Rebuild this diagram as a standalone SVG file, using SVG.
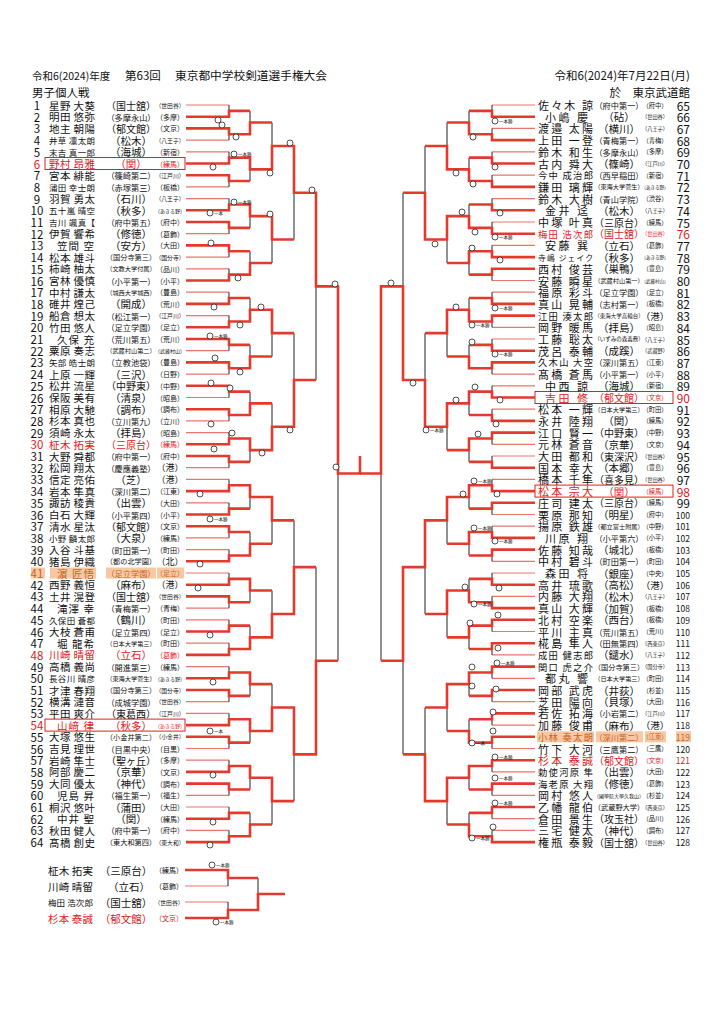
<svg xmlns="http://www.w3.org/2000/svg" width="724" height="1023" viewBox="0 0 724 1023">
<style>
text{font-family:"Noto Sans CJK JP","Noto Sans CJK SC",sans-serif;fill:#111;dominant-baseline:central}
.hd{dominant-baseline:alphabetic}
.no{font-size:11.5px;text-anchor:middle}
.nr{font-size:12px;text-anchor:end}
.ns{font-size:8.5px;text-anchor:end}
.a4,.a3{font-size:10.5px}.a5{font-size:8.5px}
.b4,.b3{font-size:11px}.b5{font-size:9.3px}.b6{font-size:7.8px}
.s3,.s4,.s5,.s6,.s7,.s8,.s9,.s10,.g3,.g4,.g5,.g6,.h3,.h4,.h5,.h6{text-anchor:middle}
.s3,.s4{font-size:10.5px}.s5{font-size:10px}.s6{font-size:8.2px}.s7{font-size:7.2px}.s8{font-size:6.2px}.s9{font-size:5.5px}.s10{font-size:5px}
.g3{font-size:9px}.g4{font-size:7px}.g5{font-size:5.8px}.g6{font-size:5px}
.h3{font-size:9.5px}.h4{font-size:6.3px}.h5{font-size:5.2px}.h6{font-size:4.5px}
.mk{font-size:4.5px}
.rd text{fill:#e0201c}
.og text{fill:#c8641e}
.hl{fill:#f8c7a4}
.bx{fill:none;stroke:#e0201c;stroke-width:1}
.w{fill:none;stroke:#e33a2e;stroke-width:2.6;vector-effect:non-scaling-stroke}
.l{fill:none;stroke:#e8766e;stroke-width:1.2;vector-effect:non-scaling-stroke}
.k{fill:none;stroke:#222;stroke-width:1;vector-effect:non-scaling-stroke}
</style>
<defs><circle id="c" r="3" fill="#fff" stroke="#222" stroke-width="0.8"/></defs>
<rect width="724" height="1023" fill="#fff"/>
<g id="header">
<text class="hd" x="32" y="80" font-size="10.5">令和6(2024)年度</text>
<text class="hd" x="125" y="80" font-size="11.5">第63回</text>
<text class="hd" x="175" y="80" font-size="11.7">東京都中学校剣道選手権大会</text>
<text class="hd" x="32" y="97" font-size="11.5">男子個人戦</text>
<text class="hd" x="690" y="80" font-size="11.5" text-anchor="end">令和6(2024)年7月22日(月)</text>
<text class="hd" x="690" y="97" font-size="11.5" text-anchor="end">於　東京武道館</text>
</g>
<g id="highlights">
<rect class="hl" x="31" y="567.5" width="14" height="11"/><rect class="hl" x="50" y="567.5" width="46" height="11"/><rect class="hl" x="106" y="567.5" width="50" height="11"/><rect class="hl" x="157" y="567.5" width="27" height="11"/>
<rect class="hl" x="537" y="731.3" width="57" height="11"/><rect class="hl" x="596" y="731.3" width="47" height="11"/><rect class="hl" x="645" y="731.3" width="21" height="11"/><rect class="hl" x="676" y="731.3" width="15" height="11"/>
<rect class="bx" x="45" y="157.5" width="140" height="12"/>
<rect class="bx" x="45" y="719.1" width="140" height="12"/>
<rect class="bx" x="535" y="391.5" width="138" height="12"/>
<rect class="bx" x="535" y="485.1" width="138" height="12"/>
</g>
<g id="left">
<g id="e1" transform="translate(0,105)"><text class="no" x="37">1</text><text class="a4" x="49" textLength="46">星野 大葵</text><text class="s5" x="131">（国士舘）</text><text class="g5" x="170">（世田谷）</text></g>
<g id="e2" transform="translate(0,116.7)"><text class="no" x="37">2</text><text class="a4" x="49" textLength="46">明田 悠弥</text><text class="s6" x="131">（多摩永山）</text><text class="g4" x="170">（多摩）</text></g>
<g id="e3" transform="translate(0,128.4)"><text class="no" x="37">3</text><text class="a4" x="49" textLength="46">地主 朝陽</text><text class="s5" x="131">（郁文館）</text><text class="g4" x="170">（文京）</text></g>
<g id="e4" transform="translate(0,140.1)"><text class="no" x="37">4</text><text class="a5" x="49" textLength="46">井草 凛太朗</text><text class="s4" x="131">（松木）</text><text class="g5" x="170">（八王子）</text></g>
<g id="e5" transform="translate(0,151.8)"><text class="no" x="37">5</text><text class="a5" x="49" textLength="46">末吉 真一郎</text><text class="s4" x="131">（海城）</text><text class="g4" x="170">（新宿）</text></g>
<g id="e6" class="rd" transform="translate(0,163.5)"><text class="no" x="37">6</text><text class="a4" x="49" textLength="46">野村 昂雅</text><text class="s3" x="131">（関）</text><text class="g4" x="170">（練馬）</text></g>
<g id="e7" transform="translate(0,175.2)"><text class="no" x="37">7</text><text class="a4" x="49" textLength="46">宮本 緋能</text><text class="s6" x="131">（篠崎第二）</text><text class="g5" x="170">（江戸川）</text></g>
<g id="e8" transform="translate(0,186.9)"><text class="no" x="37">8</text><text class="a5" x="49" textLength="46">蒲田 幸士朗</text><text class="s6" x="131">（赤塚第三）</text><text class="g4" x="170">（板橋）</text></g>
<g id="e9" transform="translate(0,198.6)"><text class="no" x="37">9</text><text class="a4" x="49" textLength="46">羽賀 勇太</text><text class="s4" x="131">（石川）</text><text class="g5" x="170">（八王子）</text></g>
<g id="e10" transform="translate(0,210.3)"><text class="no" x="37">10</text><text class="a5" x="49" textLength="46">五十嵐 晴空</text><text class="s4" x="131">（秋多）</text><text class="g6" x="170">（あきる野）</text></g>
<g id="e11" transform="translate(0,222)"><text class="no" x="37">11</text><text class="a5" x="49" textLength="46">吉川 颯真【</text><text class="s6" x="131">（府中第五）</text><text class="g4" x="170">（府中）</text></g>
<g id="e12" transform="translate(0,233.7)"><text class="no" x="37">12</text><text class="a4" x="49" textLength="46">伊賀 響希</text><text class="s4" x="131">（修徳）</text><text class="g4" x="170">（葛飾）</text></g>
<g id="e13" transform="translate(0,245.4)"><text class="no" x="37">13</text><text class="a3" x="57" textLength="37">笠間 空</text><text class="s4" x="131">（安方）</text><text class="g4" x="170">（大田）</text></g>
<g id="e14" transform="translate(0,257.1)"><text class="no" x="37">14</text><text class="a4" x="49" textLength="46">松本 雄斗</text><text class="s7" x="131">（国分寺第三）</text><text class="g5" x="170">（国分寺）</text></g>
<g id="e15" transform="translate(0,268.8)"><text class="no" x="37">15</text><text class="a4" x="49" textLength="46">柿崎 柚太</text><text class="s8" x="131">（文教大学付属）</text><text class="g4" x="170">（品川）</text></g>
<g id="e16" transform="translate(0,280.5)"><text class="no" x="37">16</text><text class="a4" x="49" textLength="46">宮林 優慎</text><text class="s6" x="131">（小平第一）</text><text class="g4" x="170">（小平）</text></g>
<g id="e17" transform="translate(0,292.2)"><text class="no" x="37">17</text><text class="a4" x="49" textLength="46">中村 謙太</text><text class="s8" x="131">（城西大学城西）</text><text class="g4" x="170">（豊島）</text></g>
<g id="e18" transform="translate(0,303.9)"><text class="no" x="37">18</text><text class="a4" x="49" textLength="46">碓井 煌己</text><text class="s4" x="131">（開成）</text><text class="g4" x="170">（荒川）</text></g>
<g id="e19" transform="translate(0,315.6)"><text class="no" x="37">19</text><text class="a4" x="49" textLength="46">船倉 想太</text><text class="s6" x="131">（松江第一）</text><text class="g5" x="170">（江戸川）</text></g>
<g id="e20" transform="translate(0,327.3)"><text class="no" x="37">20</text><text class="a4" x="49" textLength="46">竹田 悠人</text><text class="s6" x="131">（足立学園）</text><text class="g4" x="170">（足立）</text></g>
<g id="e21" transform="translate(0,339)"><text class="no" x="37">21</text><text class="a3" x="57" textLength="37">久保 充</text><text class="s6" x="131">（荒川第五）</text><text class="g4" x="170">（荒川）</text></g>
<g id="e22" transform="translate(0,350.7)"><text class="no" x="37">22</text><text class="a4" x="49" textLength="46">粟原 奏志</text><text class="s8" x="131">（武蔵村山第二）</text><text class="g6" x="170">（武蔵村山）</text></g>
<g id="e23" transform="translate(0,362.4)"><text class="no" x="37">23</text><text class="a5" x="49" textLength="46">矢部 皓士朗</text><text class="s6" x="131">（立教池袋）</text><text class="g4" x="170">（豊島）</text></g>
<g id="e24" transform="translate(0,374.1)"><text class="no" x="37">24</text><text class="a4" x="49" textLength="46">上原 一輝</text><text class="s4" x="131">（三沢）</text><text class="g4" x="170">（日野）</text></g>
<g id="e25" transform="translate(0,385.8)"><text class="no" x="37">25</text><text class="a4" x="49" textLength="46">松井 流星</text><text class="s5" x="131">（中野東）</text><text class="g4" x="170">（中野）</text></g>
<g id="e26" transform="translate(0,397.5)"><text class="no" x="37">26</text><text class="a4" x="49" textLength="46">保阪 美有</text><text class="s4" x="131">（清泉）</text><text class="g4" x="170">（昭島）</text></g>
<g id="e27" transform="translate(0,409.2)"><text class="no" x="37">27</text><text class="a4" x="49" textLength="46">相原 大馳</text><text class="s4" x="131">（調布）</text><text class="g4" x="170">（調布）</text></g>
<g id="e28" transform="translate(0,420.9)"><text class="no" x="37">28</text><text class="a4" x="49" textLength="46">杉本 真也</text><text class="s6" x="131">（立川第九）</text><text class="g4" x="170">（立川）</text></g>
<g id="e29" transform="translate(0,432.6)"><text class="no" x="37">29</text><text class="a4" x="49" textLength="46">須崎 永太</text><text class="s4" x="131">（拝島）</text><text class="g4" x="170">（昭島）</text></g>
<g id="e30" class="rd" transform="translate(0,444.3)"><text class="no" x="37">30</text><text class="a4" x="49" textLength="46">柾木 拓実</text><text class="s5" x="131">（三原台）</text><text class="g4" x="170">（練馬）</text></g>
<g id="e31" transform="translate(0,456)"><text class="no" x="37">31</text><text class="a4" x="49" textLength="46">大野 舜都</text><text class="s6" x="131">（府中第一）</text><text class="g4" x="170">（府中）</text></g>
<g id="e32" transform="translate(0,467.7)"><text class="no" x="37">32</text><text class="a4" x="49" textLength="46">松岡 翔太</text><text class="s6" x="131">（慶應義塾）</text><text class="g3" x="170">（港）</text></g>
<g id="e33" transform="translate(0,479.4)"><text class="no" x="37">33</text><text class="a4" x="49" textLength="46">信定 亮佑</text><text class="s3" x="131">（芝）</text><text class="g3" x="170">（港）</text></g>
<g id="e34" transform="translate(0,491.1)"><text class="no" x="37">34</text><text class="a4" x="49" textLength="46">岩本 隼真</text><text class="s6" x="131">（深川第二）</text><text class="g4" x="170">（江東）</text></g>
<g id="e35" transform="translate(0,502.8)"><text class="no" x="37">35</text><text class="a4" x="49" textLength="46">諏訪 稜貴</text><text class="s4" x="131">（出雲）</text><text class="g4" x="170">（大田）</text></g>
<g id="e36" transform="translate(0,514.5)"><text class="no" x="37">36</text><text class="a4" x="49" textLength="46">白石 大輝</text><text class="s6" x="131">（小平第四）</text><text class="g4" x="170">（小平）</text></g>
<g id="e37" transform="translate(0,526.2)"><text class="no" x="37">37</text><text class="a4" x="49" textLength="46">清水 星汰</text><text class="s5" x="131">（郁文館）</text><text class="g4" x="170">（文京）</text></g>
<g id="e38" transform="translate(0,537.9)"><text class="no" x="37">38</text><text class="a5" x="49" textLength="46">小野 麟太郎</text><text class="s4" x="131">（大泉）</text><text class="g4" x="170">（練馬）</text></g>
<g id="e39" transform="translate(0,549.6)"><text class="no" x="37">39</text><text class="a4" x="49" textLength="46">入谷 斗基</text><text class="s6" x="131">（町田第一）</text><text class="g4" x="170">（町田）</text></g>
<g id="e40" transform="translate(0,561.3)"><text class="no" x="37">40</text><text class="a4" x="49" textLength="46">猪島 伊織</text><text class="s7" x="131">（都の北学園）</text><text class="g3" x="170">（北）</text></g>
<g id="e41" class="og" transform="translate(0,573)"><text class="no" x="37">41</text><text class="a3" x="57" textLength="37">濵 匠悟</text><text class="s6" x="131">（足立学園）</text><text class="g4" x="170">（足立）</text></g>
<g id="e42" transform="translate(0,584.7)"><text class="no" x="37">42</text><text class="a4" x="49" textLength="46">西野 義恒</text><text class="s4" x="131">（麻布）</text><text class="g3" x="170">（港）</text></g>
<g id="e43" transform="translate(0,596.4)"><text class="no" x="37">43</text><text class="a4" x="49" textLength="46">土井 滉登</text><text class="s5" x="131">（国士舘）</text><text class="g5" x="170">（世田谷）</text></g>
<g id="e44" transform="translate(0,608.1)"><text class="no" x="37">44</text><text class="a3" x="57" textLength="37">滝澤 幸</text><text class="s6" x="131">（青梅第一）</text><text class="g4" x="170">（青梅）</text></g>
<g id="e45" transform="translate(0,619.8)"><text class="no" x="37">45</text><text class="a5" x="49" textLength="46">久保田 蒼都</text><text class="s4" x="131">（鶴川）</text><text class="g4" x="170">（町田）</text></g>
<g id="e46" transform="translate(0,631.5)"><text class="no" x="37">46</text><text class="a4" x="49" textLength="46">大枝 蒼甫</text><text class="s6" x="131">（足立第四）</text><text class="g4" x="170">（足立）</text></g>
<g id="e47" transform="translate(0,643.2)"><text class="no" x="37">47</text><text class="a3" x="57" textLength="37">堀 龍希</text><text class="s8" x="131">（日本大学第三）</text><text class="g4" x="170">（町田）</text></g>
<g id="e48" class="rd" transform="translate(0,654.9)"><text class="no" x="37">48</text><text class="a4" x="49" textLength="46">川崎 晴留</text><text class="s4" x="131">（立石）</text><text class="g4" x="170">（葛飾）</text></g>
<g id="e49" transform="translate(0,666.6)"><text class="no" x="37">49</text><text class="a4" x="49" textLength="46">高橋 義尚</text><text class="s6" x="131">（開進第三）</text><text class="g4" x="170">（練馬）</text></g>
<g id="e50" transform="translate(0,678.3)"><text class="no" x="37">50</text><text class="a5" x="49" textLength="46">長谷川 晴彦</text><text class="s8" x="131">（東海大学菅生）</text><text class="g6" x="170">（あきる野）</text></g>
<g id="e51" transform="translate(0,690)"><text class="no" x="37">51</text><text class="a4" x="49" textLength="46">才津 春翔</text><text class="s7" x="131">（国分寺第三）</text><text class="g5" x="170">（国分寺）</text></g>
<g id="e52" transform="translate(0,701.7)"><text class="no" x="37">52</text><text class="a4" x="49" textLength="46">横溝 漣音</text><text class="s6" x="131">（成城学園）</text><text class="g5" x="170">（世田谷）</text></g>
<g id="e53" transform="translate(0,713.4)"><text class="no" x="37">53</text><text class="a4" x="49" textLength="46">平田 爽介</text><text class="s5" x="131">（東葛西）</text><text class="g5" x="170">（江戸川）</text></g>
<g id="e54" class="rd" transform="translate(0,725.1)"><text class="no" x="37">54</text><text class="a3" x="57" textLength="37">山﨑 律</text><text class="s4" x="131">（秋多）</text><text class="g6" x="170">（あきる野）</text></g>
<g id="e55" transform="translate(0,736.8)"><text class="no" x="37">55</text><text class="a4" x="49" textLength="46">大塚 悠生</text><text class="s7" x="131">（小金井第二）</text><text class="g5" x="170">（小金井）</text></g>
<g id="e56" transform="translate(0,748.5)"><text class="no" x="37">56</text><text class="a4" x="49" textLength="46">吉見 理世</text><text class="s6" x="131">（目黒中央）</text><text class="g4" x="170">（目黒）</text></g>
<g id="e57" transform="translate(0,760.2)"><text class="no" x="37">57</text><text class="a4" x="49" textLength="46">岩崎 隼士</text><text class="s5" x="131">（聖ヶ丘）</text><text class="g4" x="170">（多摩）</text></g>
<g id="e58" transform="translate(0,771.9)"><text class="no" x="37">58</text><text class="a4" x="49" textLength="46">阿部 慶二</text><text class="s4" x="131">（京華）</text><text class="g4" x="170">（文京）</text></g>
<g id="e59" transform="translate(0,783.6)"><text class="no" x="37">59</text><text class="a4" x="49" textLength="46">大同 優太</text><text class="s4" x="131">（神代）</text><text class="g4" x="170">（調布）</text></g>
<g id="e60" transform="translate(0,795.3)"><text class="no" x="37">60</text><text class="a3" x="57" textLength="37">児島 昇</text><text class="s6" x="131">（福生第一）</text><text class="g4" x="170">（福生）</text></g>
<g id="e61" transform="translate(0,807)"><text class="no" x="37">61</text><text class="a4" x="49" textLength="46">桐沢 悠叶</text><text class="s4" x="131">（蒲田）</text><text class="g4" x="170">（大田）</text></g>
<g id="e62" transform="translate(0,818.7)"><text class="no" x="37">62</text><text class="a3" x="57" textLength="37">中井 聖</text><text class="s3" x="131">（関）</text><text class="g4" x="170">（練馬）</text></g>
<g id="e63" transform="translate(0,830.4)"><text class="no" x="37">63</text><text class="a4" x="49" textLength="46">秋田 健人</text><text class="s6" x="131">（府中第一）</text><text class="g4" x="170">（府中）</text></g>
<g id="e64" transform="translate(0,842.1)"><text class="no" x="37">64</text><text class="a4" x="49" textLength="46">髙橋 創史</text><text class="s7" x="131">（東大和第四）</text><text class="g5" x="170">（東大和）</text></g>
</g>
<g id="right">
<g id="e65" transform="translate(0,105)"><text class="b4" x="538" textLength="55">佐々木 諒</text><text class="s6" x="619">（府中第一）</text><text class="h4" x="655">（府中）</text><text class="nr" x="690">65</text></g>
<g id="e66" transform="translate(0,116.7)"><text class="b3" x="545" textLength="43">小嶋 慶</text><text class="s3" x="619">（砧）</text><text class="h5" x="655">（世田谷）</text><text class="nr" x="690">66</text></g>
<g id="e67" transform="translate(0,128.4)"><text class="b4" x="538" textLength="55">渡邉 太陽</text><text class="s4" x="619">（横川）</text><text class="h5" x="655">（八王子）</text><text class="nr" x="690">67</text></g>
<g id="e68" transform="translate(0,140.1)"><text class="b4" x="538" textLength="55">上田 一登</text><text class="s6" x="619">（青梅第一）</text><text class="h4" x="655">（青梅）</text><text class="nr" x="690">68</text></g>
<g id="e69" transform="translate(0,151.8)"><text class="b4" x="538" textLength="55">鈴木 和生</text><text class="s6" x="619">（多摩永山）</text><text class="h4" x="655">（多摩）</text><text class="nr" x="690">69</text></g>
<g id="e70" transform="translate(0,163.5)"><text class="b4" x="538" textLength="55">古内 舜大</text><text class="s4" x="619">（篠崎）</text><text class="h5" x="655">（江戸川）</text><text class="nr" x="690">70</text></g>
<g id="e71" transform="translate(0,175.2)"><text class="b5" x="538" textLength="55">今中 成治郎</text><text class="s6" x="619">（西早稲田）</text><text class="h4" x="655">（新宿）</text><text class="nr" x="690">71</text></g>
<g id="e72" transform="translate(0,186.9)"><text class="b4" x="538" textLength="55">鎌田 璃輝</text><text class="s8" x="619">（東海大学菅生）</text><text class="h6" x="655">（あきる野）</text><text class="nr" x="690">72</text></g>
<g id="e73" transform="translate(0,198.6)"><text class="b4" x="538" textLength="55">鈴木 大樹</text><text class="s6" x="619">（青山学院）</text><text class="h4" x="655">（渋谷）</text><text class="nr" x="690">73</text></g>
<g id="e74" transform="translate(0,210.3)"><text class="b3" x="545" textLength="43">金井 迳</text><text class="s4" x="619">（松木）</text><text class="h5" x="655">（八王子）</text><text class="nr" x="690">74</text></g>
<g id="e75" transform="translate(0,222)"><text class="b4" x="538" textLength="55">中塚 叶真</text><text class="s5" x="619">（三原台）</text><text class="h4" x="655">（練馬）</text><text class="nr" x="690">75</text></g>
<g id="e76" class="rd" transform="translate(0,233.7)"><text class="b5" x="538" textLength="55">梅田 浩次郎</text><text class="s5" x="619">（国士舘）</text><text class="h5" x="655">（世田谷）</text><text class="nr" x="690">76</text></g>
<g id="e77" transform="translate(0,245.4)"><text class="b3" x="545" textLength="43">安藤 巽</text><text class="s4" x="619">（立石）</text><text class="h4" x="655">（葛飾）</text><text class="nr" x="690">77</text></g>
<g id="e78" transform="translate(0,257.1)"><text class="b6" x="538" textLength="55">寺嶋 ジェイク</text><text class="s4" x="619">（秋多）</text><text class="h6" x="655">（あきる野）</text><text class="nr" x="690">78</text></g>
<g id="e79" transform="translate(0,268.8)"><text class="b4" x="538" textLength="55">西村 俊芸</text><text class="s4" x="619">（巣鴨）</text><text class="h4" x="655">（豊島）</text><text class="nr" x="690">79</text></g>
<g id="e80" transform="translate(0,280.5)"><text class="b4" x="538" textLength="55">安藤 瞬星</text><text class="s8" x="619">（武蔵村山第一）</text><text class="h6" x="655">（武蔵村山）</text><text class="nr" x="690">80</text></g>
<g id="e81" transform="translate(0,292.2)"><text class="b4" x="538" textLength="55">福原 彩斗</text><text class="s6" x="619">（足立学園）</text><text class="h4" x="655">（足立）</text><text class="nr" x="690">81</text></g>
<g id="e82" transform="translate(0,303.9)"><text class="b4" x="538" textLength="55">真山 晃輔</text><text class="s6" x="619">（志村第一）</text><text class="h4" x="655">（板橋）</text><text class="nr" x="690">82</text></g>
<g id="e83" transform="translate(0,315.6)"><text class="b5" x="538" textLength="55">江田 湊太郎</text><text class="s9" x="619">（東海大学高輪台）</text><text class="h3" x="655">（港）</text><text class="nr" x="690">83</text></g>
<g id="e84" transform="translate(0,327.3)"><text class="b4" x="538" textLength="55">岡野 暖馬</text><text class="s4" x="619">（拝島）</text><text class="h4" x="655">（昭島）</text><text class="nr" x="690">84</text></g>
<g id="e85" transform="translate(0,339)"><text class="b4" x="538" textLength="55">工藤 聡太</text><text class="s9" x="619">（いずみの森義務）</text><text class="h5" x="655">（八王子）</text><text class="nr" x="690">85</text></g>
<g id="e86" transform="translate(0,350.7)"><text class="b4" x="538" textLength="55">茂呂 泰輔</text><text class="s4" x="619">（成蹊）</text><text class="h5" x="655">（武蔵野）</text><text class="nr" x="690">86</text></g>
<g id="e87" transform="translate(0,362.4)"><text class="b5" x="538" textLength="55">久木山 大空</text><text class="s6" x="619">（深川第五）</text><text class="h4" x="655">（江東）</text><text class="nr" x="690">87</text></g>
<g id="e88" transform="translate(0,374.1)"><text class="b4" x="538" textLength="55">髙橋 蒼馬</text><text class="s6" x="619">（小平第一）</text><text class="h4" x="655">（小平）</text><text class="nr" x="690">88</text></g>
<g id="e89" transform="translate(0,385.8)"><text class="b3" x="545" textLength="43">中西 諒</text><text class="s4" x="619">（海城）</text><text class="h4" x="655">（新宿）</text><text class="nr" x="690">89</text></g>
<g id="e90" class="rd" transform="translate(0,397.5)"><text class="b3" x="545" textLength="43">吉田 修</text><text class="s5" x="619">（郁文館）</text><text class="h4" x="655">（文京）</text><text class="nr" x="690">90</text></g>
<g id="e91" transform="translate(0,409.2)"><text class="b4" x="538" textLength="55">松本 一輝</text><text class="s8" x="619">（日本大学第三）</text><text class="h4" x="655">（町田）</text><text class="nr" x="690">91</text></g>
<g id="e92" transform="translate(0,420.9)"><text class="b4" x="538" textLength="55">永井 陸翔</text><text class="s3" x="619">（関）</text><text class="h4" x="655">（練馬）</text><text class="nr" x="690">92</text></g>
<g id="e93" transform="translate(0,432.6)"><text class="b4" x="538" textLength="55">江口 賢一</text><text class="s5" x="619">（中野東）</text><text class="h4" x="655">（中野）</text><text class="nr" x="690">93</text></g>
<g id="e94" transform="translate(0,444.3)"><text class="b4" x="538" textLength="55">元林 蒼音</text><text class="s4" x="619">（京華）</text><text class="h4" x="655">（文京）</text><text class="nr" x="690">94</text></g>
<g id="e95" transform="translate(0,456)"><text class="b4" x="538" textLength="55">大田 都和</text><text class="s5" x="619">（東深沢）</text><text class="h5" x="655">（世田谷）</text><text class="nr" x="690">95</text></g>
<g id="e96" transform="translate(0,467.7)"><text class="b4" x="538" textLength="55">国本 幸大</text><text class="s4" x="619">（本郷）</text><text class="h4" x="655">（豊島）</text><text class="nr" x="690">96</text></g>
<g id="e97" transform="translate(0,479.4)"><text class="b4" x="538" textLength="55">橋本 千隼</text><text class="s5" x="619">（喜多見）</text><text class="h5" x="655">（世田谷）</text><text class="nr" x="690">97</text></g>
<g id="e98" class="rd" transform="translate(0,491.1)"><text class="b4" x="538" textLength="55">松本 宗大</text><text class="s3" x="619">（関）</text><text class="h4" x="655">（練馬）</text><text class="nr" x="690">98</text></g>
<g id="e99" transform="translate(0,502.8)"><text class="b4" x="538" textLength="55">庄司 建太</text><text class="s5" x="619">（三原台）</text><text class="h4" x="655">（練馬）</text><text class="nr" x="690">99</text></g>
<g id="e100" transform="translate(0,514.5)"><text class="b4" x="538" textLength="55">栗原 那知</text><text class="s4" x="619">（明星）</text><text class="h4" x="655">（府中）</text><text class="ns" x="690">100</text></g>
<g id="e101" transform="translate(0,526.2)"><text class="b4" x="538" textLength="55">揚原 鉄雄</text><text class="s8" x="619">（都立富士附属）</text><text class="h4" x="655">（中野）</text><text class="ns" x="690">101</text></g>
<g id="e102" transform="translate(0,537.9)"><text class="b3" x="545" textLength="43">川原 翔</text><text class="s6" x="619">（小平第六）</text><text class="h4" x="655">（小平）</text><text class="ns" x="690">102</text></g>
<g id="e103" transform="translate(0,549.6)"><text class="b4" x="538" textLength="55">佐藤 知哉</text><text class="s4" x="619">（城北）</text><text class="h4" x="655">（板橋）</text><text class="ns" x="690">103</text></g>
<g id="e104" transform="translate(0,561.3)"><text class="b4" x="538" textLength="55">中村 碧斗</text><text class="s6" x="619">（町田第一）</text><text class="h4" x="655">（町田）</text><text class="ns" x="690">104</text></g>
<g id="e105" transform="translate(0,573)"><text class="b3" x="545" textLength="43">森田 将</text><text class="s4" x="619">（銀座）</text><text class="h4" x="655">（中央）</text><text class="ns" x="690">105</text></g>
<g id="e106" transform="translate(0,584.7)"><text class="b4" x="538" textLength="55">高井 琉歌</text><text class="s4" x="619">（高松）</text><text class="h3" x="655">（港）</text><text class="ns" x="690">106</text></g>
<g id="e107" transform="translate(0,596.4)"><text class="b4" x="538" textLength="55">内藤 大翔</text><text class="s4" x="619">（松木）</text><text class="h5" x="655">（八王子）</text><text class="ns" x="690">107</text></g>
<g id="e108" transform="translate(0,608.1)"><text class="b4" x="538" textLength="55">真山 大輝</text><text class="s4" x="619">（加賀）</text><text class="h4" x="655">（板橋）</text><text class="ns" x="690">108</text></g>
<g id="e109" transform="translate(0,619.8)"><text class="b4" x="538" textLength="55">北村 空楽</text><text class="s4" x="619">（西台）</text><text class="h4" x="655">（板橋）</text><text class="ns" x="690">109</text></g>
<g id="e110" transform="translate(0,631.5)"><text class="b4" x="538" textLength="55">平川 主真</text><text class="s6" x="619">（荒川第五）</text><text class="h4" x="655">（荒川）</text><text class="ns" x="690">110</text></g>
<g id="e111" transform="translate(0,643.2)"><text class="b4" x="538" textLength="55">椛島 隼人</text><text class="s6" x="619">（田無第四）</text><text class="h5" x="655">（西東京）</text><text class="ns" x="690">111</text></g>
<g id="e112" transform="translate(0,654.9)"><text class="b5" x="538" textLength="55">成田 健志郎</text><text class="s4" x="619">（鑓水）</text><text class="h5" x="655">（八王子）</text><text class="ns" x="690">112</text></g>
<g id="e113" transform="translate(0,666.6)"><text class="b5" x="538" textLength="55">関口 虎之介</text><text class="s7" x="619">（国分寺第三）</text><text class="h5" x="655">（国分寺）</text><text class="ns" x="690">113</text></g>
<g id="e114" transform="translate(0,678.3)"><text class="b3" x="545" textLength="43">都丸 響</text><text class="s8" x="619">（日本大学第三）</text><text class="h4" x="655">（町田）</text><text class="ns" x="690">114</text></g>
<g id="e115" transform="translate(0,690)"><text class="b4" x="538" textLength="55">岡部 武虎</text><text class="s4" x="619">（井荻）</text><text class="h4" x="655">（杉並）</text><text class="ns" x="690">115</text></g>
<g id="e116" transform="translate(0,701.7)"><text class="b4" x="538" textLength="55">芝田 陽向</text><text class="s4" x="619">（貝塚）</text><text class="h4" x="655">（大田）</text><text class="ns" x="690">116</text></g>
<g id="e117" transform="translate(0,713.4)"><text class="b4" x="538" textLength="55">若佐 拓海</text><text class="s6" x="619">（小岩第二）</text><text class="h5" x="655">（江戸川）</text><text class="ns" x="690">117</text></g>
<g id="e118" transform="translate(0,725.1)"><text class="b4" x="538" textLength="55">加藤 俊甫</text><text class="s4" x="619">（麻布）</text><text class="h3" x="655">（港）</text><text class="ns" x="690">118</text></g>
<g id="e119" class="og" transform="translate(0,736.8)"><text class="b5" x="538" textLength="55">小林 奏太朗</text><text class="s6" x="619">（深川第二）</text><text class="h4" x="655">（江東）</text><text class="ns" x="690">119</text></g>
<g id="e120" transform="translate(0,748.5)"><text class="b4" x="538" textLength="55">竹下 大河</text><text class="s6" x="619">（三鷹第二）</text><text class="h4" x="655">（三鷹）</text><text class="ns" x="690">120</text></g>
<g id="e121" class="rd" transform="translate(0,760.2)"><text class="b4" x="538" textLength="55">杉本 泰誠</text><text class="s5" x="619">（郁文館）</text><text class="h4" x="655">（文京）</text><text class="ns" x="690">121</text></g>
<g id="e122" transform="translate(0,771.9)"><text class="b5" x="538" textLength="55">勅使河原 隼</text><text class="s4" x="619">（出雲）</text><text class="h4" x="655">（大田）</text><text class="ns" x="690">122</text></g>
<g id="e123" transform="translate(0,783.6)"><text class="b5" x="538" textLength="55">海老原 大翔</text><text class="s4" x="619">（修徳）</text><text class="h4" x="655">（葛飾）</text><text class="ns" x="690">123</text></g>
<g id="e124" transform="translate(0,795.3)"><text class="b4" x="538" textLength="55">岡村 悠人</text><text class="s10" x="619">（國學院大學久我山）</text><text class="h4" x="655">（杉並）</text><text class="ns" x="690">124</text></g>
<g id="e125" transform="translate(0,807)"><text class="b4" x="538" textLength="55">乙幡 龍伯</text><text class="s7" x="619">（武蔵野大学）</text><text class="h5" x="655">（西東京）</text><text class="ns" x="690">125</text></g>
<g id="e126" transform="translate(0,818.7)"><text class="b4" x="538" textLength="55">倉田 景生</text><text class="s5" x="619">（攻玉社）</text><text class="h4" x="655">（品川）</text><text class="ns" x="690">126</text></g>
<g id="e127" transform="translate(0,830.4)"><text class="b4" x="538" textLength="55">三宅 健太</text><text class="s4" x="619">（神代）</text><text class="h4" x="655">（調布）</text><text class="ns" x="690">127</text></g>
<g id="e128" transform="translate(0,842.1)"><text class="b4" x="538" textLength="55">権瓶 泰毅</text><text class="s5" x="619">（国士舘）</text><text class="h5" x="655">（世田谷）</text><text class="ns" x="690">128</text></g>
</g>
<g id="playoff">
<g id="b1" transform="translate(0,870)"><text class="a4" x="48" textLength="45">柾木 拓実</text><text class="s4" x="126">（三原台）</text><text class="g4" x="169">（練馬）</text></g>
<g id="b2" transform="translate(0,886)"><text class="a4" x="48" textLength="45">川崎 晴留</text><text class="s4" x="129">（立石）</text><text class="g4" x="169">（葛飾）</text></g>
<g id="b3" transform="translate(0,902)"><text class="a5" x="48" textLength="45">梅田 浩次郎</text><text class="s4" x="126">（国士舘）</text><text class="g5" x="169">（世田谷）</text></g>
<g id="b4" class="rd" transform="translate(0,918)"><text class="a4" x="48" textLength="45">杉本 泰誠</text><text class="s4" x="126">（郁文館）</text><text class="g4" x="169">（文京）</text></g>
</g>
<g id="connectors">
<g transform="translate(0,105) scale(1,11.7)">
<path class="l" d="M186 0H229M186 1H229M186 2H229M186 3H229M186 4H229M186 5H229M186 6H229M186 7H229M186 8H229M186 9H229M186 10H229M186 11H229M186 12H229M186 13H229M186 14H229M186 15H229M186 16H229M186 17H229M186 18H229M186 19H229M186 20H229M186 21H229M186 22H229M186 23H229M186 24H229M186 25H229M186 26H229M186 27H229M186 28H229M186 29H229M186 30H229M186 31H229M186 32H229M186 33H229M186 34H229M186 35H229M186 36H229M186 37H229M186 38H229M186 39H229M186 40H229M186 41H229M186 42H229M186 43H229M186 44H229M186 45H229M186 46H229M186 47H229M186 48H229M186 49H229M186 50H229M186 51H229M186 52H229M186 53H229M186 54H229M186 55H229M186 56H229M186 57H229M186 58H229M186 59H229M186 60H229M186 61H229M186 62H229M186 63H229"/>
<path class="l" d="M492 0H535M492 1H535M492 2H535M492 3H535M492 4H535M492 5H535M492 6H535M492 7H535M492 8H535M492 9H535M492 10H535M492 11H535M492 12H535M492 13H535M492 14H535M492 15H535M492 16H535M492 17H535M492 18H535M492 19H535M492 20H535M492 21H535M492 22H535M492 23H535M492 24H535M492 25H535M492 26H535M492 27H535M492 28H535M492 29H535M492 30H535M492 31H535M492 32H535M492 33H535M492 34H535M492 35H535M492 36H535M492 37H535M492 38H535M492 39H535M492 40H535M492 41H535M492 42H535M492 43H535M492 44H535M492 45H535M492 46H535M492 47H535M492 48H535M492 49H535M492 50H535M492 51H535M492 52H535M492 53H535M492 54H535M492 55H535M492 56H535M492 57H535M492 58H535M492 59H535M492 60H535M492 61H535M492 62H535M492 63H535"/>
<path class="k" d="M229 0V1M229 2V3M229 4V5M229 6V7M229 8V9M229 10V11M229 12V13M229 14V15M229 16V17M229 18V19M229 20V21M229 22V23M229 24V25M229 26V27M229 28V29M229 30V31M229 32V33M229 34V35M229 36V37M229 38V39M229 40V41M229 42V43M229 44V45M229 46V47M229 48V49M229 50V51M229 52V53M229 54V55M229 56V57M229 58V59M229 60V61M229 62V63M250 .5V2.5M250 4.5V6.5M250 8.5V10.5M250 12.5V14.5M250 16.5V18.5M250 20.5V22.5M250 24.5V26.5M250 28.5V30.5M250 32.5V34.5M250 36.5V38.5M250 40.5V42.5M250 44.5V46.5M250 48.5V50.5M250 52.5V54.5M250 56.5V58.5M250 60.5V62.5M272 1.5V5.5M272 9.5V13.5M272 17.5V21.5M272 25.5V29.5M272 33.5V37.5M272 41.5V45.5M272 49.5V53.5M272 57.5V61.5M294 3.5V11.5M294 19.5V27.5M294 35.5V43.5M294 51.5V59.5M316 7.5V23.5M316 39.5V55.5M338 15.5V47.5"/>
<path class="k" d="M492 0V1M492 2V3M492 4V5M492 6V7M492 8V9M492 10V11M492 12V13M492 14V15M492 16V17M492 18V19M492 20V21M492 22V23M492 24V25M492 26V27M492 28V29M492 30V31M492 32V33M492 34V35M492 36V37M492 38V39M492 40V41M492 42V43M492 44V45M492 46V47M492 48V49M492 50V51M492 52V53M492 54V55M492 56V57M492 58V59M492 60V61M492 62V63M469 .5V2.5M469 4.5V6.5M469 8.5V10.5M469 12.5V14.5M469 16.5V18.5M469 20.5V22.5M469 24.5V26.5M469 28.5V30.5M469 32.5V34.5M469 36.5V38.5M469 40.5V42.5M469 44.5V46.5M469 48.5V50.5M469 52.5V54.5M469 56.5V58.5M469 60.5V62.5M447 1.5V5.5M447 9.5V13.5M447 17.5V21.5M447 25.5V29.5M447 33.5V37.5M447 41.5V45.5M447 49.5V53.5M447 57.5V61.5M425 3.5V11.5M425 19.5V27.5M425 35.5V43.5M425 51.5V59.5M403 7.5V23.5M403 39.5V55.5M381 15.5V47.5"/>
<path class="w" d="M186 1H229V.5H250M186 2H229V2.5H250V1.5H272M186 5H229V4.5H250V5.5H272V3.5H294V7.5H316V15.5H338V31.5H360V30M186 6H229V6.5H250M186 9H229V8.5H250V9.5H272V11.5H294M186 10H229V10.5H250M186 12H229V12.5H250M186 15H229V14.5H250V13.5H272M186 17H229V16.5H250M186 19H229V18.5H250V17.5H272V19.5H294M186 20H229V20.5H250M186 22H229V22.5H250V21.5H272M186 24H229V24.5H250M186 26H229V26.5H250V25.5H272M186 29H229V28.5H250V29.5H272V27.5H294V23.5H316M186 30H229V30.5H250M186 33H229V32.5H250V33.5H272V35.5H294M186 35H229V34.5H250M186 36H229V36.5H250M186 39H229V38.5H250V37.5H272M186 41H229V40.5H250V41.5H272M186 42H229V42.5H250M186 45H229V44.5H250M186 47H229V46.5H250V45.5H272V43.5H294V39.5H316M186 49H229V48.5H250V49.5H272M186 50H229V50.5H250M186 53H229V52.5H250V53.5H272V51.5H294V55.5H316V47.5H338M186 54H229V54.5H250M186 57H229V56.5H250V57.5H272V59.5H294M186 58H229V58.5H250M186 61H229V60.5H250M186 63H229V62.5H250V61.5H272"/>
<path class="w" d="M535 1H492V.5H469M535 3H492V2.5H469V1.5H447M535 5H492V4.5H469M535 7H492V6.5H469V5.5H447V3.5H425M535 9H492V8.5H469M535 11H492V10.5H469V9.5H447V11.5H425V7.5H403M535 13H492V12.5H469V13.5H447M535 14H492V14.5H469M535 17H492V16.5H469M535 18H492V18.5H469V17.5H447V19.5H425M535 21H492V20.5H469M535 22H492V22.5H469V21.5H447M535 25H492V24.5H469V25.5H447V27.5H425V23.5H403V15.5H381V31.5H360M535 27H492V26.5H469M535 28H492V28.5H469V29.5H447M535 31H492V30.5H469M535 33H492V32.5H469V33.5H447V35.5H425V39.5H403V47.5H381M535 34H492V34.5H469M535 37H492V36.5H469V37.5H447M535 38H492V38.5H469M535 41H492V40.5H469M535 43H492V42.5H469V41.5H447V43.5H425M535 44H492V44.5H469V45.5H447M535 46H492V46.5H469M535 48H492V48.5H469V49.5H447V51.5H425M535 50H492V50.5H469M535 52H492V52.5H469M535 54H492V54.5H469V53.5H447M535 56H492V56.5H469V57.5H447V59.5H425V55.5H403M535 58H492V58.5H469M535 60H492V60.5H469M535 63H492V62.5H469V61.5H447"/>
</g>
<path class="l" d="M185 886H228M185 902H228"/>
<path class="k" d="M228 870V886M228 902V918M258 878V910"/>
<path class="w" d="M185 870H228V878H258M185 918H228V910H258V894H285"/>
</g>
<g id="marks">
<use href="#c" x="218" y="120"/><use href="#c" x="222" y="125"/><use href="#c" x="236" y="137"/><use href="#c" x="290" y="143"/><use href="#c" x="234" y="154"/><use href="#c" x="213" y="167"/><use href="#c" x="270" y="173"/><use href="#c" x="234" y="202"/><use href="#c" x="210" y="213"/><use href="#c" x="270" y="214"/><use href="#c" x="211" y="243"/><use href="#c" x="238" y="278"/><use href="#c" x="214" y="307"/><use href="#c" x="261" y="307"/><use href="#c" x="240" y="325"/><use href="#c" x="210" y="336"/><use href="#c" x="215" y="358"/><use href="#c" x="240" y="372"/><use href="#c" x="211" y="383"/><use href="#c" x="230" y="388"/><use href="#c" x="211" y="424"/><use href="#c" x="232" y="433"/><use href="#c" x="214" y="449"/><use href="#c" x="262" y="453"/><use href="#c" x="290" y="430"/><use href="#c" x="312" y="190"/><use href="#c" x="335" y="284"/><use href="#c" x="336" y="467"/>
<use href="#c" x="200" y="494"/><use href="#c" x="210" y="519"/><use href="#c" x="200" y="564"/><use href="#c" x="198" y="588"/><use href="#c" x="210" y="635"/><use href="#c" x="213" y="682"/><use href="#c" x="210" y="731"/><use href="#c" x="213" y="775"/><use href="#c" x="213" y="822"/><use href="#c" x="210" y="845"/>
<use href="#c" x="495" y="121"/><use href="#c" x="473" y="137"/><use href="#c" x="495" y="167"/><use href="#c" x="473" y="184"/><use href="#c" x="462" y="212"/><use href="#c" x="500" y="213"/><use href="#c" x="475" y="232"/><use href="#c" x="495" y="237"/><use href="#c" x="472" y="248"/><use href="#c" x="500" y="260"/><use href="#c" x="495" y="308"/><use href="#c" x="456" y="307"/><use href="#c" x="472" y="325"/><use href="#c" x="472" y="342"/><use href="#c" x="495" y="354"/><use href="#c" x="475" y="387"/><use href="#c" x="500" y="400"/><use href="#c" x="456" y="400"/><use href="#c" x="496" y="424"/><use href="#c" x="478" y="434"/><use href="#c" x="426" y="430"/><use href="#c" x="391" y="283"/><use href="#c" x="413" y="383"/><use href="#c" x="435" y="244"/><use href="#c" x="456" y="173"/>
<use href="#c" x="474" y="481"/><use href="#c" x="463" y="494"/><use href="#c" x="497" y="494"/><use href="#c" x="474" y="528"/><use href="#c" x="495" y="541"/><use href="#c" x="465" y="587"/><use href="#c" x="499" y="588"/><use href="#c" x="474" y="604"/><use href="#c" x="498" y="615"/><use href="#c" x="470" y="623"/><use href="#c" x="498" y="648"/><use href="#c" x="472" y="667"/><use href="#c" x="497" y="663"/><use href="#c" x="472" y="686"/><use href="#c" x="496" y="689"/><use href="#c" x="493" y="712"/><use href="#c" x="493" y="731"/><use href="#c" x="472" y="743"/><use href="#c" x="495" y="757"/><use href="#c" x="495" y="778"/><use href="#c" x="495" y="803"/><use href="#c" x="493" y="827"/><use href="#c" x="472" y="838"/>
<use href="#c" x="212" y="865"/><use href="#c" x="216" y="922"/>
<text class="mk" x="238" y="154">一本勝</text><text class="mk" x="238" y="202">一本勝</text><text class="mk" x="214" y="213">一本</text><text class="mk" x="214" y="336">一本勝</text><text class="mk" x="214" y="519">一本勝</text><text class="mk" x="214" y="731">一本</text>
<text class="mk" x="499" y="121">一本勝</text><text class="mk" x="499" y="237">一本勝</text><text class="mk" x="499" y="308">一本勝</text><text class="mk" x="476" y="325">一本勝</text><text class="mk" x="499" y="354">一本勝</text><text class="mk" x="430" y="430">一本勝</text><text class="mk" x="478" y="481">一本勝</text><text class="mk" x="478" y="528">一本勝</text><text class="mk" x="499" y="541">一本勝</text><text class="mk" x="478" y="604">一本勝</text><text class="mk" x="501" y="663">一本勝</text><text class="mk" x="476" y="743">一本</text><text class="mk" x="499" y="757">一本勝</text><text class="mk" x="499" y="778">一本勝</text><text class="mk" x="499" y="803">一本勝</text><text class="mk" x="476" y="838">一本勝</text>
<text class="mk" x="216" y="865">一本勝</text><text class="mk" x="220" y="922">一本勝</text>
</g>
</svg>
